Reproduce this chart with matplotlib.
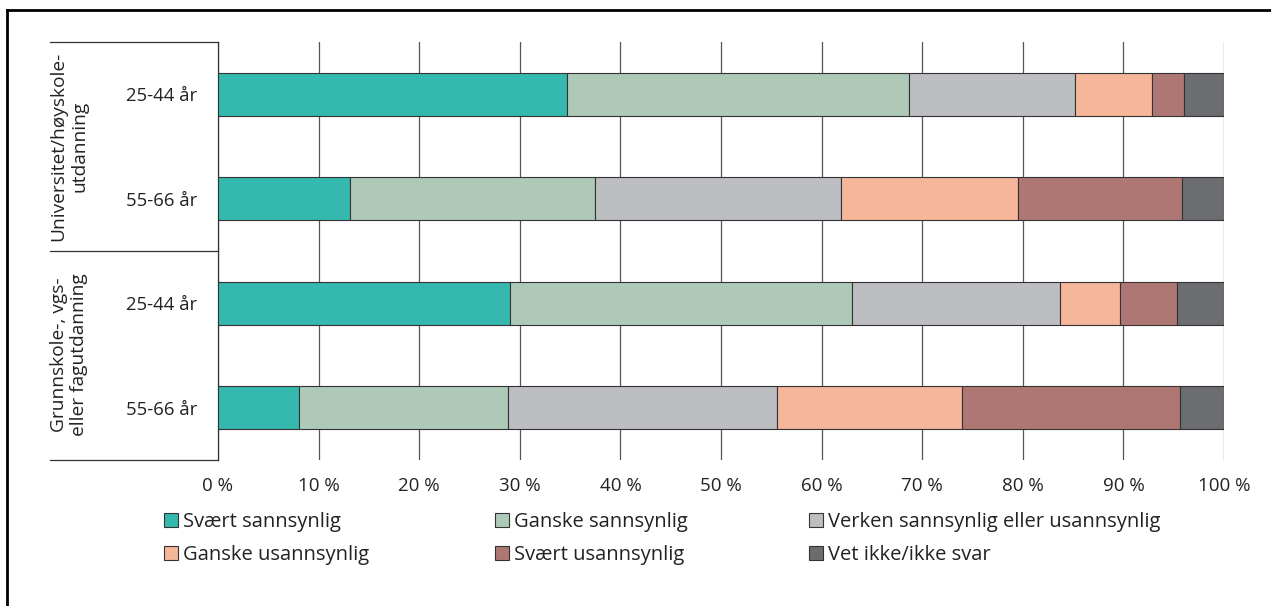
import matplotlib
matplotlib.use("Agg")
import matplotlib.pyplot as plt
from matplotlib.lines import Line2D
from matplotlib.patches import Patch
import numpy as np

plt.rcParams['font.family'] = ['Open Sans', 'DejaVu Sans']

# Response categories (stacked left to right)
answers = ["Svært sannsynlig", "Ganske sannsynlig", "Verken sannsynlig eller usannsynlig",
           "Ganske usannsynlig", "Svært usannsynlig", "Vet ikke/ikke svar"]
colors = ["#35b9ae", "#aec9b7", "#bdbec2", "#f5b69a", "#af7774", "#6c6d71"]

# Rows, top to bottom
age_labels = ["25-44 år", "55-66 år", "25-44 år", "55-66 år"]
group_labels = ["Universitet/høyskole-\nutdanning", "Grunnskole-, vgs-\neller fagutdanning"]

# Share (%) per answer category, one list per row
svaert_sannsynlig = [34.7, 13.1, 29.0, 8.1]
ganske_sannsynlig = [34.0, 24.4, 34.0, 20.7]
verken = [16.5, 24.4, 20.7, 26.8]
ganske_usannsynlig = [7.6, 17.6, 6.0, 18.4]
svaert_usannsynlig = [3.2, 16.3, 5.6, 21.6]
vet_ikke = [4.0, 4.2, 4.7, 4.4]

series = [svaert_sannsynlig, ganske_sannsynlig, verken,
          ganske_usannsynlig, svaert_usannsynlig, vet_ikke]

W, H = 1271, 606
fig = plt.figure(figsize=(W / 100, H / 100), dpi=100)

def fx(px):
    return px / W

def fy(py):
    return 1 - py / H

ax = fig.add_axes([fx(218), fy(460), fx(1224) - fx(218), fy(42) - fy(460)])

y = np.arange(len(age_labels))
left = np.zeros(len(age_labels))
for vals, col, name in zip(series, colors, answers):
    vals = np.array(vals)
    ax.barh(y, vals, left=left, height=0.41, color=col, edgecolor="#333333",
            linewidth=0.8, label=name, zorder=3)
    left += vals

ax.set_xlim(0, 100)
ax.set_ylim(3.5, -0.5)
ax.set_xticks(np.arange(0, 101, 10))
ax.set_xticklabels([f"{v} %" for v in range(0, 101, 10)], fontsize=13.5, color="#222222")
ax.tick_params(axis="x", length=0, pad=12)
ax.set_yticks(y)
ax.set_yticklabels(age_labels, fontsize=13.3, color="#222222")
ax.tick_params(axis="y", length=0, pad=15)
ax.grid(axis="x", color="#555555", linewidth=0.9, zorder=0)
for s in ["top", "right", "bottom"]:
    ax.spines[s].set_visible(False)
ax.spines["left"].set_color("#333333")
ax.spines["left"].set_linewidth(0.9)

# Group bracket lines at the left of the rows
for py in (42, 251, 460):
    fig.add_artist(Line2D([fx(50), fx(218)], [fy(py), fy(py)], color="#333333", linewidth=0.9))

fig.text(fx(69), fy(146), group_labels[0], rotation=90, ha="center", va="center",
         fontsize=13.8, color="#222222", linespacing=1.2, multialignment="center")
fig.text(fx(69), fy(355), group_labels[1], rotation=90, ha="center", va="center",
         fontsize=13.8, color="#222222", linespacing=1.2, multialignment="center")

# Outer frame lines
fig.add_artist(Line2D([fx(7), fx(1271)], [fy(10), fy(10)], color="black", linewidth=2))
fig.add_artist(Line2D([fx(7), fx(7)], [fy(10), fy(606)], color="black", linewidth=2))

# Legend in three columns of two entries
handles = [Patch(facecolor=c, edgecolor="#333333", linewidth=0.8) for c in colors]
col_x = [164, 495, 809]
for i, cx in enumerate(col_x):
    idx = [i, i + 3]
    leg = fig.legend([handles[j] for j in idx], [answers[j] for j in idx],
                     loc="upper left", bbox_to_anchor=(fx(cx), fy(512)),
                     frameon=False, fontsize=14.5, handlelength=0.7, handleheight=0.7,
                     handletextpad=0.25, labelspacing=0.65, borderaxespad=0, borderpad=0)
    for t in leg.get_texts():
        t.set_color("#222222")

fig.savefig("out.png", dpi=100)
